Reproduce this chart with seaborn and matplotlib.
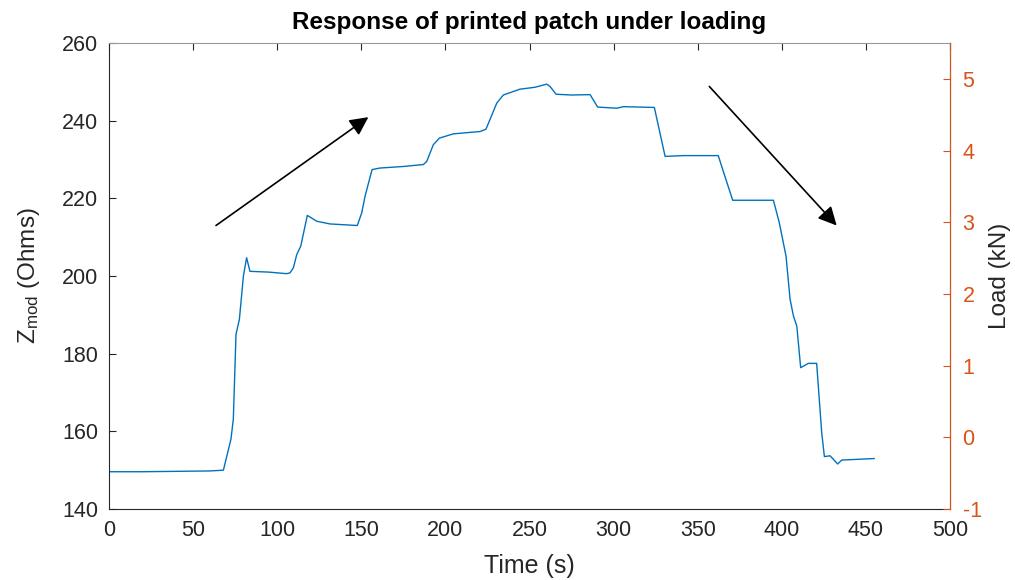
import numpy as np
import pandas as pd
import matplotlib
matplotlib.use("Agg")
import matplotlib.pyplot as plt
import seaborn as sns

# values
time_s = [0, 20, 40, 60, 68, 72.5, 73.9, 75.5, 77.5, 79.9,
          81.8, 83.8, 95, 105.6, 107.6, 109.6, 111.6, 114, 117.9, 123.5,
          131.4, 147.6, 150.2, 152.2, 154.8, 156.4, 161.1, 175, 186.9, 188.9,
          192.8, 196.4, 204.7, 220.6, 224.1, 230.5, 234.4, 244.3, 253.3, 260.2,
          262.2, 265.8, 275.1, 286, 290.5, 301.8, 305.8, 324.2, 330.6, 341.4,
          362.2, 366.2, 370.8, 381.1, 395, 398.5, 402.5, 404.9, 406.9, 408.9,
          411.2, 415.8, 420.7, 423.7, 425.3, 428.7, 433.2, 435.6, 455]
z_mod = [149.6, 149.6, 149.7, 149.8, 150.0, 158.0, 163.1, 185.0, 188.8, 200.0,
         204.7, 201.2, 201.0, 200.6, 200.8, 202.1, 205.5, 207.7, 215.6, 214.1,
         213.4, 213.0, 216.2, 220.5, 224.8, 227.4, 227.8, 228.2, 228.7, 229.5,
         233.8, 235.5, 236.6, 237.2, 237.8, 244.5, 246.6, 248.1, 248.6, 249.4,
         248.8, 246.8, 246.6, 246.7, 243.5, 243.2, 243.6, 243.4, 230.8, 231.0,
         231.0, 225.6, 219.5, 219.5, 219.5, 213.7, 205.1, 194.0, 189.7, 187.1,
         176.4, 177.5, 177.5, 159.7, 153.5, 153.7, 151.6, 152.6, 153.0]

x_ticks = [0, 50, 100, 150, 200, 250, 300, 350, 400, 450, 500]
z_ticks = [140, 160, 180, 200, 220, 240, 260]
load_ticks = [-1, 0, 1, 2, 3, 4, 5]

# arrows (start -> end), in time / Z coordinates
arrow_up = [(63.6, 213.0), (154.2, 240.9)]
arrow_down = [(356.9, 248.8), (432.6, 213.0)]

df = pd.DataFrame({"Time": time_s, "Zmod": z_mod})

sns.set_style("white")
plt.rcParams["font.family"] = ["Liberation Sans", "DejaVu Sans"]
plt.rcParams["mathtext.default"] = "regular"
plt.rcParams["axes.unicode_minus"] = False

blue = "#0072BD"
orange = "#D95319"
dark = "#262626"

fig = plt.figure(figsize=(10.15, 5.8), dpi=100)
ax = fig.add_axes([0.1074, 0.1224, 0.8286, 0.8035])

sns.lineplot(data=df, x="Time", y="Zmod", ax=ax, color=blue, linewidth=1, sort=False)

ax.set_xlim(0, 500)
ax.set_ylim(140, 260)
ax.set_xticks(x_ticks)
ax.set_yticks(z_ticks)
ax.tick_params(axis="both", direction="in", length=5, labelsize=15.5, colors=dark,
               top=True, width=0.8)
ax.tick_params(axis="x", pad=8)
ax.tick_params(axis="y", pad=8)
ax.set_xlabel("Time (s)", fontsize=18, color=dark, labelpad=9)
ax.set_ylabel("Z$_{mod}$ (Ohms)", fontsize=17.5, color=dark, labelpad=14)
ax.set_title("Response of printed patch under loading", fontsize=17.5,
             fontweight="bold", pad=10, color="black")

for side in ["left", "bottom", "top"]:
    ax.spines[side].set_color(dark)
    ax.spines[side].set_linewidth(0.8)
ax.spines["top"].set_color("#999999")

ax2 = ax.twinx()
ax2.set_ylim(-1, 5.5)
ax2.set_yticks(load_ticks)
ax2.tick_params(axis="y", direction="in", length=5, labelsize=15.5, colors=orange,
                width=0.8, pad=9)
ax2.set_ylabel("Load (kN)", fontsize=17.5, color=dark, labelpad=5)
ax2.spines["right"].set_color(orange)
ax2.spines["right"].set_linewidth(0.8)
for side in ["left", "bottom", "top"]:
    ax2.spines[side].set_visible(False)

for (x0, y0), (x1, y1) in [arrow_up, arrow_down]:
    ax.annotate("", xy=(x1, y1), xytext=(x0, y0),
                arrowprops=dict(arrowstyle="-|>", color="black", lw=1.2,
                                mutation_scale=28, shrinkA=0, shrinkB=0))

fig.savefig("out.png", dpi=100)
